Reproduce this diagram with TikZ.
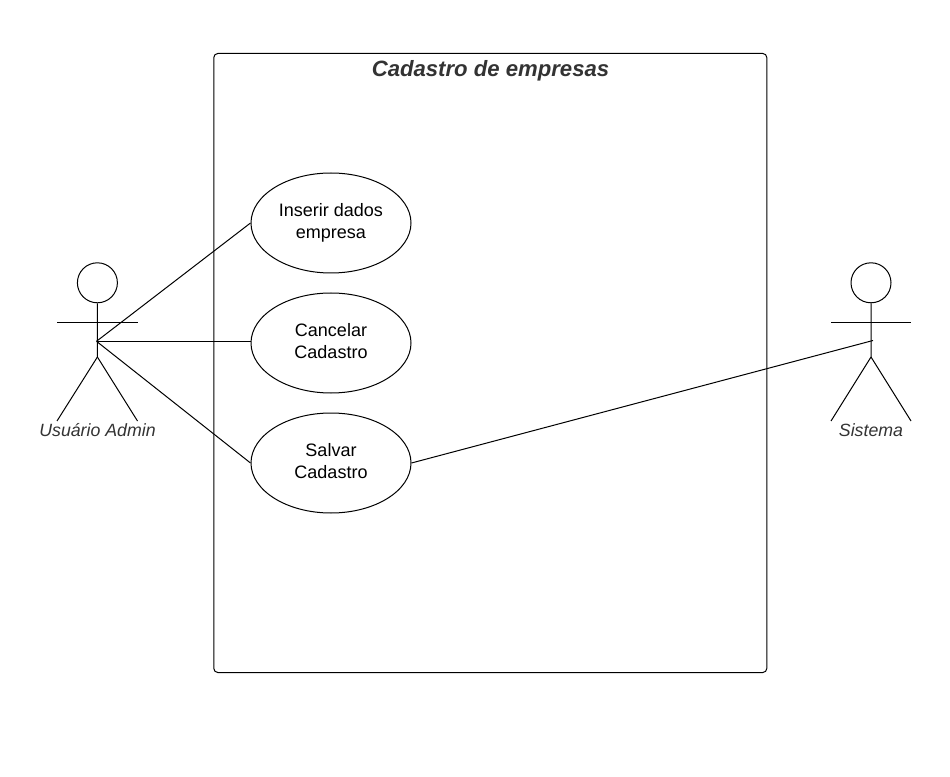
\documentclass[tikz,border=0pt]{standalone}
\usepackage{fontspec}
\setmainfont{Liberation Sans}
\usetikzlibrary{shapes.geometric}
\definecolor{ink}{HTML}{333333}
\tikzset{x=0.75pt,y=-0.75pt,
 line/.style={draw=black,line width=0.75pt},
 usecase/.style={ellipse,draw=black,line width=0.75pt,minimum width=120pt,minimum height=75pt,inner sep=0pt,align=center,font=\fontsize{13.5}{16}\selectfont,text=black},
 actorlabel/.style={font=\fontsize{13.3}{15}\selectfont\itshape,text=ink,inner sep=0pt},
 head/.style={circle,draw=black,line width=0.75pt,minimum size=30pt,inner sep=0pt}}
\begin{document}
\begin{tikzpicture}
\useasboundingbox (0,0) rectangle (950,777);
\node[draw=black,line width=0.75pt,rounded corners=3pt,minimum width=414.75pt,minimum height=464.25pt,inner sep=0pt] (frame) at (490.3,363) {};
\node[font=\fontsize{16.6}{20}\selectfont\bfseries\itshape,text=ink,inner sep=0pt] (title) at (490.5,71) {Cadastro de empresas};
\node[usecase] (uc1) at (331,223) {Inserir dados\\empresa};
\node[usecase] (uc2) at (331,343) {Cancelar\\Cadastro\vphantom{p}};
\node[usecase] (uc3) at (331,463) {Salvar\\Cadastro\vphantom{p}};
% admin
\node[head] (h1) at (97.4,282.8) {};
\coordinate (n1) at (96.5,341.3);
\coordinate (al1) at (57,322.7); \coordinate (ar1) at (137.5,322.7);
\coordinate (fl1) at (57,421); \coordinate (fr1) at (137.5,421);
\coordinate (c1) at (97.4,357);
\draw[line] (h1.south) -- (c1) -- (fl1);
\draw[line] (c1) -- (fr1);
\draw[line] (al1) -- (ar1);
\node[actorlabel] (l1) at (97.5,430) {Usuário Admin};
% sistema
\node[head] (h2) at (871,282.8) {};
\coordinate (n2) at (873,340.5);
\coordinate (al2) at (831,322.7); \coordinate (ar2) at (911,322.7);
\coordinate (fl2) at (831,421); \coordinate (fr2) at (911,421);
\coordinate (c2) at (871,357);
\draw[line] (h2.south) -- (c2) -- (fl2);
\draw[line] (c2) -- (fr2);
\draw[line] (al2) -- (ar2);
\node[actorlabel] (l2) at (871,430) {Sistema};
% connectors
\draw[line] (n1) -- (uc1.west);
\draw[line] (n1) -- (n1 -| uc2.west);
\draw[line] (n1) -- (uc3.west);
\draw[line] (uc3.east) -- (n2);
\end{tikzpicture}
\end{document}
